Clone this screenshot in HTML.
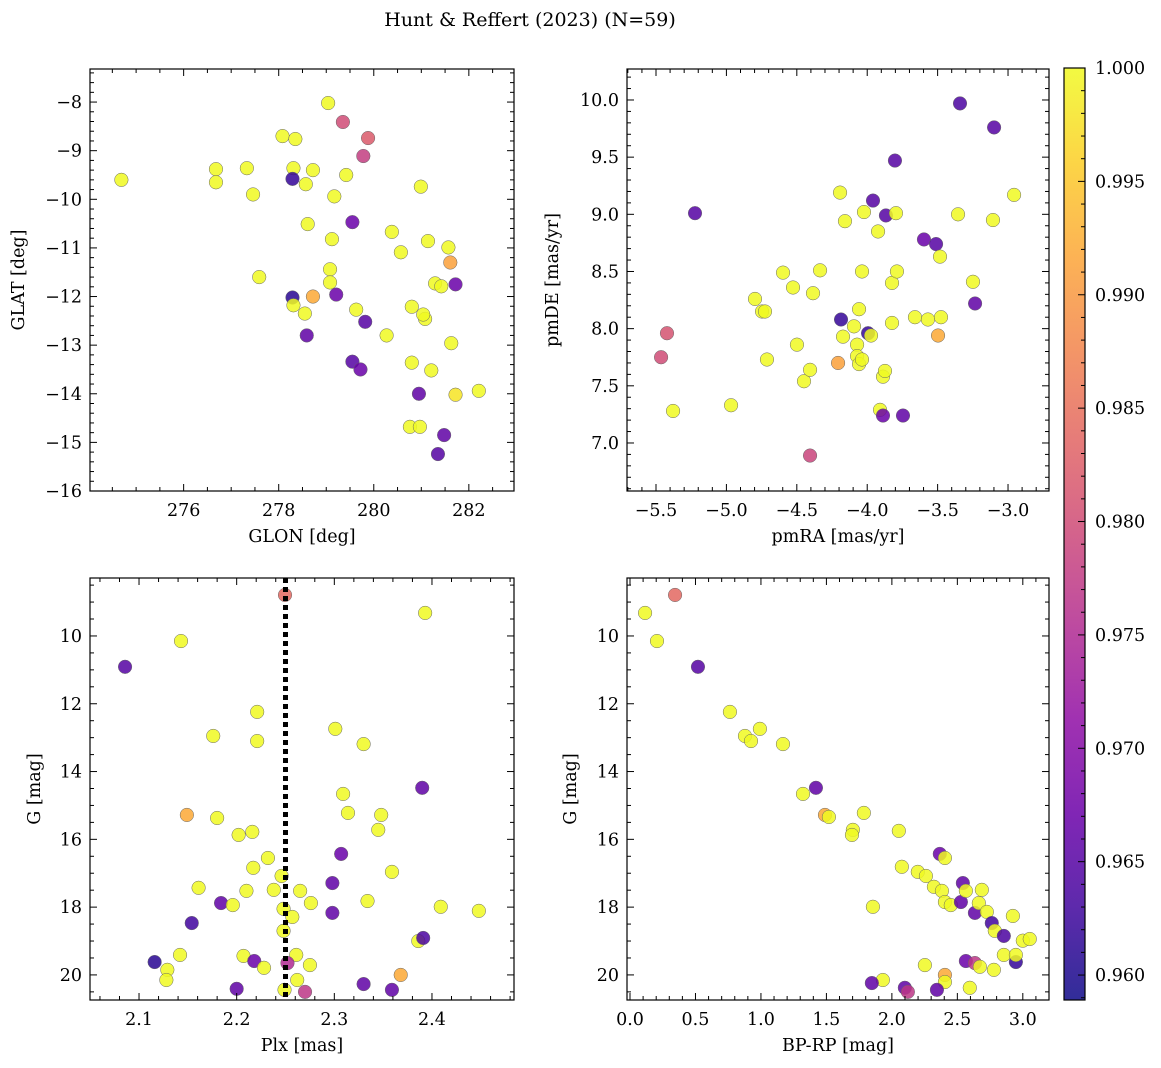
<!DOCTYPE html>
<html><head><meta charset="utf-8">
<style>
html,body{margin:0;padding:0;background:#fff;}
svg{display:block;font-family:"DejaVu Serif","Liberation Serif",serif;}
</style></head>
<body>
<svg id="fig" width="1161" height="1068" viewBox="0 0 1161 1068">
<text x="530" y="26" text-anchor="middle" font-size="19">Hunt &amp; Reffert (2023) (N=59)</text>
</svg>
<script>
// ---- Panel 1: GLON vs GLAT ----
const glon=[274.69,276.68,276.68,277.33,277.46,277.59,278.08,278.35,278.31,278.29,278.57,278.72,278.61,279.04,279.35,279.88,279.78,279.42,279.17,279.55,279.12,279.08,279.08,278.29,278.31,278.72,278.55,278.59,279.21,279.63,279.82,279.55,279.72,280.27,280.38,280.57,280.99,281.14,280.80,281.08,281.04,281.21,280.80,281.29,281.42,281.57,281.61,281.72,281.63,280.95,281.72,282.21,280.76,280.97,281.48,281.35];
const glat=[-9.60,-9.38,-9.65,-9.36,-9.90,-11.60,-8.70,-8.76,-9.36,-9.58,-9.69,-9.40,-10.51,-8.02,-8.41,-8.74,-9.11,-9.50,-9.94,-10.47,-10.82,-11.44,-11.71,-12.02,-12.18,-12.00,-12.35,-12.80,-11.96,-12.27,-12.52,-13.34,-13.50,-12.80,-10.67,-11.09,-9.74,-10.86,-12.21,-12.46,-12.37,-13.52,-13.36,-11.73,-11.79,-10.99,-11.30,-11.75,-12.96,-14.00,-14.02,-13.94,-14.68,-14.68,-14.85,-15.24];
const prob1=[1,1,1,1,1,1,1,1,1,0.962,1,1,1,1,0.980,0.982,0.978,1,1,0.967,1,1,1,0.961,1,0.992,1,0.966,0.967,1,0.965,0.965,0.967,1,1,1,1,1,1,1,1,1,1,1,1,1,0.991,0.967,1,0.966,0.998,1,1,1,0.966,0.965];
// ---- Panel 2: pmRA vs pmDE ----
const pmra=[-5.223,-5.422,-5.464,-5.379,-4.967,-4.797,-4.747,-4.726,-4.712,-4.598,-4.527,-4.499,-4.449,-4.406,-4.385,-4.335,-4.406,-4.207,-4.193,-4.186,-4.158,-4.172,-4.094,-4.058,-4.072,-4.072,-4.058,-4.037,-4.037,-4.023,-3.994,-3.973,-3.959,-3.923,-3.888,-3.874,-3.909,-3.888,-3.867,-3.824,-3.824,-3.796,-3.789,-3.803,-3.746,-3.661,-3.597,-3.569,-3.511,-3.497,-3.483,-3.476,-3.355,-3.341,-3.249,-3.234,-3.099,-3.107,-2.957];
const pmde=[9.01,7.96,7.75,7.28,7.33,8.26,8.15,8.15,7.73,8.49,8.36,7.86,7.54,7.64,8.31,8.51,6.89,7.70,9.19,8.08,8.94,7.93,8.02,8.17,7.86,7.76,7.69,7.73,8.50,9.02,7.96,7.94,9.12,8.85,7.58,7.63,7.29,7.24,8.99,8.40,8.05,9.01,8.50,9.47,7.24,8.10,8.78,8.08,8.74,7.94,8.63,8.10,9.00,9.97,8.41,8.22,9.76,8.95,9.17];
const prob2=[0.965,0.981,0.980,1,1,1,1,1,1,1,1,1,1,1,1,1,0.979,0.991,1,0.962,1,1,1,1,1,1,1,1,1,1,0.962,1,0.965,1,1,1,1,0.967,0.965,1,1,1,1,0.965,0.966,1,0.967,1,0.965,0.992,1,1,1,0.964,1,0.966,0.965,1,1];
// ---- Panel 3: Plx vs G ----
const plx=[2.0857,2.143,2.2495,2.393,2.176,2.221,2.221,2.301,2.330,2.309,2.314,2.348,2.345,2.390,2.149,2.180,2.202,2.216,2.232,2.217,2.307,2.359,2.161,2.210,2.238,2.246,2.265,2.298,2.334,2.276,2.248,2.257,2.298,2.184,2.196,2.154,2.409,2.448,2.248,2.386,2.391,2.142,2.207,2.218,2.228,2.261,2.252,2.275,2.116,2.129,2.128,2.262,2.249,2.270,2.200,2.330,2.359,2.368];
const gmag3=[10.91,10.15,8.79,9.32,12.95,12.24,13.10,12.74,13.19,14.66,15.22,15.28,15.72,14.48,15.28,15.37,15.87,15.78,16.55,16.84,16.43,16.96,17.43,17.52,17.49,17.08,17.52,17.29,17.82,17.88,18.05,18.29,18.17,17.88,17.94,18.47,17.99,18.11,18.70,19.0,18.91,19.41,19.44,19.59,19.79,19.41,19.65,19.71,19.62,19.85,20.15,20.15,20.44,20.50,20.41,20.27,20.44,20.0];
const prob3=[0.965,1,0.984,1,1,1,1,1,1,1,1,1,1,0.966,0.992,1,1,1,1,1,0.967,1,1,1,1,1,1,0.966,1,1,1,1,0.966,0.966,1,0.963,1,1,1,1,0.964,1,1,0.967,1,1,0.975,1,0.961,1,1,1,1,0.977,0.966,0.966,0.966,0.992];
const plxRef=2.25;
// ---- Panel 4: BP-RP vs G ----
const bprp=[0.115,0.344,0.206,0.519,0.763,0.878,0.924,0.992,1.168,1.321,1.420,1.489,1.519,1.786,1.702,1.695,2.053,2.076,2.198,2.260,2.321,2.366,2.405,2.382,2.405,2.450,2.527,2.542,2.565,2.634,2.664,2.687,2.725,2.763,2.786,2.855,2.924,2.855,3.0,3.053,2.947,2.947,2.565,2.634,2.672,2.779,2.252,1.931,1.855,1.847,2.099,2.122,2.405,2.405,2.344,2.595];
const gmag4=[9.32,8.79,10.15,10.91,12.24,12.95,13.10,12.74,13.19,14.66,14.48,15.28,15.34,15.22,15.72,15.87,15.75,16.81,16.96,17.08,17.40,16.43,16.55,17.52,17.85,17.94,17.85,17.29,17.52,18.17,17.88,17.49,18.14,18.47,18.70,18.85,18.26,19.41,18.99,18.94,19.62,19.41,19.59,19.65,19.76,19.85,19.71,20.15,17.99,20.24,20.38,20.50,20.0,20.21,20.44,20.38];
const prob4=[1,0.984,1,0.965,1,1,1,1,1,1,0.966,0.992,1,1,1,1,1,1,1,1,1,0.967,1,1,1,1,0.966,0.966,1,0.966,1,1,1,0.963,1,0.964,1,1,1,1,0.962,1,0.967,0.977,1,1,1,1,1,0.966,0.966,0.977,0.992,1,0.966,1];
const cbTicks=[0.960,0.965,0.970,0.975,0.980,0.985,0.990,0.995,1.000];

const NS="http://www.w3.org/2000/svg";
const svg=document.getElementById('fig');
const FS=17.5;
function mk(tag,attrs,parent){const e=document.createElementNS(NS,tag);for(const k in attrs)e.setAttribute(k,attrs[k]);(parent||svg).appendChild(e);return e;}
const VMIN=0.9589,VMAX=1.0;
const stops=["#0d0887","#41049d","#6a00a8","#8f0da4","#b12a90","#cc4778","#e16462","#f2844b","#fca636","#fcce25","#f0f921"];
function hex(h){return [parseInt(h.slice(1,3),16),parseInt(h.slice(3,5),16),parseInt(h.slice(5,7),16)];}
function plasma(t){t=Math.max(0,Math.min(1,t));const f=t*10,i=Math.min(9,Math.floor(f)),r=f-i;const a=hex(stops[i]),b=hex(stops[i+1]);return 'rgb('+a.map((v,k)=>Math.round(v+(b[k]-v)*r)).join(',')+')';}
function col(p){return plasma((p-VMIN)/(VMAX-VMIN));}

function panel(o){
  const g=mk('g',{});
  
  
  const sx=v=>o.x0+(v-o.xmin)/(o.xmax-o.xmin)*(o.x1-o.x0);
  const sy=o.inv? v=>o.y0+(v-o.ymin)/(o.ymax-o.ymin)*(o.y1-o.y0) : v=>o.y1-(v-o.ymin)/(o.ymax-o.ymin)*(o.y1-o.y0);
  for(let i=0;i<o.xs.length;i++){
    const c=mk('circle',{cx:sx(o.xs[i]),cy:sy(o.ys[i]),r:6.8,fill:col(o.ps[i]),'fill-opacity':0.85,stroke:'#666','stroke-width':0.5},g);
    
    
  }
  if(o.extra)o.extra(g,sx,sy);
  const fr=mk('rect',{x:o.x0,y:o.y0,width:o.x1-o.x0,height:o.y1-o.y0,fill:'none',stroke:'#000','stroke-width':1.2},g);
  
  
  const eps=1e-9;
  for(let v=Math.ceil(o.xmin/o.xmi-eps)*o.xmi; v<=o.xmax+eps; v+=o.xmi){
    const major=Math.abs(v/o.xma-Math.round(v/o.xma))<1e-6;const L=major?7:4;const X=sx(v);
    mk('line',{x1:X,x2:X,y1:o.y1,y2:o.y1-L,stroke:'#000','stroke-width':1},g);
    mk('line',{x1:X,x2:X,y1:o.y0,y2:o.y0+L,stroke:'#000','stroke-width':1},g);
    if(major){const t=mk('text',{x:X,y:o.y1+25,'text-anchor':'middle','font-size':FS},g);t.textContent=o.xf(v);
      }
  }
  for(let v=Math.ceil(o.ymin/o.ymi-eps)*o.ymi; v<=o.ymax+eps; v+=o.ymi){
    const major=Math.abs(v/o.yma-Math.round(v/o.yma))<1e-6;const L=major?7:4;const Y=sy(v);
    mk('line',{x1:o.x0,x2:o.x0+L,y1:Y,y2:Y,stroke:'#000','stroke-width':1},g);
    mk('line',{x1:o.x1,x2:o.x1-L,y1:Y,y2:Y,stroke:'#000','stroke-width':1},g);
    if(major){const t=mk('text',{x:o.x0-8,y:Y+6,'text-anchor':'end','font-size':FS},g);t.textContent=o.yf(v);
      }
  }
  const xl=mk('text',{x:(o.x0+o.x1)/2,y:o.y1+51,'text-anchor':'middle','font-size':FS},g);xl.textContent=o.xlab;
  
  const yx=o.ylx, yy=(o.y0+o.y1)/2;
  const yl=mk('text',{x:yx,y:yy,'text-anchor':'middle','font-size':FS,transform:'rotate(-90 '+yx+' '+yy+')'},g);yl.textContent=o.ylab;
  
}
const minus=s=>s.replace('-','\u2212');
panel({name:'glon-glat-panel',x0:90,x1:514,y0:69,y1:491,xmin:274.03,xmax:282.95,ymin:-16,ymax:-7.32,xs:glon,ys:glat,ps:prob1,
  xmi:0.5,xma:2,ymi:0.2,yma:1,xf:v=>Math.round(v).toString(),yf:v=>minus(Math.round(v).toString()),xlab:'GLON [deg]',ylab:'GLAT [deg]',ylx:24});
panel({name:'pm-panel',x0:627,x1:1049,y0:69,y1:491,xmin:-5.706,xmax:-2.709,ymin:6.58,ymax:10.271,xs:pmra,ys:pmde,ps:prob2,
  xmi:0.1,xma:0.5,ymi:0.1,yma:0.5,xf:v=>minus(v.toFixed(1)),yf:v=>v.toFixed(1),xlab:'pmRA [mas/yr]',ylab:'pmDE [mas/yr]',ylx:558});
panel({name:'plx-g-panel',x0:90,x1:514,y0:578,y1:1000,xmin:2.0498,xmax:2.484,ymin:8.29,ymax:20.74,inv:true,xs:plx,ys:gmag3,ps:prob3,
  xmi:0.02,xma:0.1,ymi:0.5,yma:2,xf:v=>v.toFixed(1),yf:v=>Math.round(v).toString(),xlab:'Plx [mas]',ylab:'G [mag]',ylx:40,
  extra:(g,sx,sy)=>{const l=mk('line',{x1:sx(plxRef),x2:sx(plxRef),y1:578,y2:1000,stroke:'#000','stroke-width':5,'stroke-dasharray':'5 4'},g);
    }});
panel({name:'cmd-panel',x0:627,x1:1049,y0:578,y1:1000,xmin:-0.023,xmax:3.2,ymin:8.29,ymax:20.74,inv:true,xs:bprp,ys:gmag4,ps:prob4,
  xmi:0.1,xma:0.5,ymi:0.5,yma:2,xf:v=>v.toFixed(1),yf:v=>Math.round(v).toString(),xlab:'BP-RP [mag]',ylab:'G [mag]',ylx:576});

const cb=mk('g',{});


const defs=mk('defs',{},cb);
const lg=mk('linearGradient',{id:'cbg',x1:0,y1:1,x2:0,y2:0},defs);
for(let i=0;i<=20;i++)mk('stop',{offset:(i/20),'stop-color':plasma(i/20),'stop-opacity':0.85},lg);
const cbx0=1064,cbx1=1085,cby0=68,cby1=1000;
mk('rect',{x:cbx0,y:cby0,width:cbx1-cbx0,height:cby1-cby0,fill:'url(#cbg)',stroke:'#000','stroke-width':1.2},cb);
const cy=v=>cby1-(v-VMIN)/(VMAX-VMIN)*(cby1-cby0);
for(let k=959;k<=1000;k++){const v=k/1000;const Y=cy(v);const major=k%5===0;
  mk('line',{x1:cbx1,x2:cbx1-(major?7:4),y1:Y,y2:Y,stroke:'#000','stroke-width':1},cb);}
cbTicks.forEach(v=>{const t=mk('text',{x:cbx1+10,y:cy(v)+6,'font-size':FS},cb);t.textContent=v.toFixed(3);
  });
</script>
</body></html>
